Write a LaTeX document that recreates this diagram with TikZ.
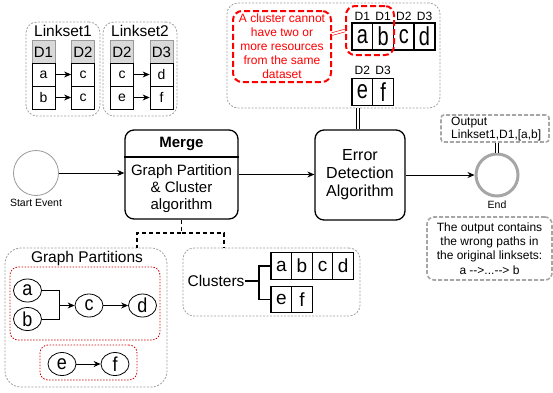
\documentclass[tikz,border=0pt]{standalone}
\usepackage{fontspec}
\usepackage{graphicx}
\setmainfont{Liberation Sans}
\usetikzlibrary{arrows.meta,calc,shapes.geometric}

\newcommand{\fs}[2]{\fontsize{#1}{#2}\selectfont}

\begin{document}
\begin{tikzpicture}[x=1pt,y=-1pt,
  groupbox/.style={draw=gray!75, dash pattern=on 2pt off 1.5pt, line width=0.8pt, rounded corners=11pt, inner sep=0pt},
  thickgroup/.style={draw=gray!70, dash pattern=on 4pt off 2pt, line width=1.6pt, rounded corners=7pt, inner sep=0pt},
  redgroup/.style={draw=red!80!black, dash pattern=on 1.5pt off 1.5pt, line width=0.8pt, rounded corners=8pt, inner sep=0pt},
  redbox/.style={draw=red, dash pattern=on 6pt off 3pt, line width=2pt, rounded corners=9pt, inner sep=0pt},
  hdrcell/.style={draw=gray!80, fill=gray!30, line width=0.8pt, minimum width=23pt, minimum height=23pt, inner sep=0pt, font=\fs{15}{17}},
  rowcell/.style={draw, line width=0.8pt, minimum width=23pt, minimum height=23pt, inner sep=0pt, font=\fs{14}{16}},
  bigcell/.style={draw, line width=1.4pt, minimum width=20.7pt, minimum height=27pt, inner sep=0pt, font=\fs{20}{22}},
  clcell/.style={draw, line width=1.2pt, minimum width=20.6pt, minimum height=26.5pt, inner sep=0pt, font=\fs{19}{21}},
  gnode/.style={draw, ellipse, line width=0.8pt, minimum width=28pt, minimum height=23pt, inner sep=0pt, font=\fs{18}{20}},
  procbox/.style={draw, line width=1.3pt, rounded corners=9pt, inner sep=0pt},
  arr/.style={-{Stealth[length=7pt,width=6pt]}, line width=0.8pt},
  dbl/.style={double=white, double distance=2pt, line width=0.6pt},
  lbl/.style={inner sep=0pt}
]
\useasboundingbox (0,0) rectangle (553,392);

% ---------- link sets ----------
\node[groupbox, minimum width=74pt, minimum height=94pt] (ls1) at (63,69) {};
\node[lbl, font=\fs{15.5}{17}] (ls1t) at (63,31) {Linkset1};
\node[hdrcell] (l1h1) at (43.5,52) {D1};
\node[rowcell] (l1a) at (43.5,74.5) {a};
\node[rowcell] (l1b) at (43.5,97.5) {b};
\node[hdrcell] (l1h2) at (83,52) {D2};
\node[rowcell] (l1c) at (83,74.5) {c};
\node[rowcell] (l1c2) at (83,97.5) {c};
\draw[arr] (l1a.east) -- (l1c.west);
\draw[arr] (l1b.east) -- (l1c2.west);

\node[groupbox, minimum width=74pt, minimum height=94pt] (ls2) at (140,69) {};
\node[lbl, font=\fs{15.5}{17}] (ls2t) at (140,31) {Linkset2};
\node[hdrcell] (l2h1) at (122,52) {D2};
\node[rowcell] (l2c) at (122,74.5) {c};
\node[rowcell] (l2e) at (122,97.5) {e};
\node[hdrcell] (l2h2) at (161.5,52) {D3};
\node[rowcell] (l2d) at (161.5,74.5) {d};
\node[rowcell] (l2f) at (161.5,97.5) {f};
\draw[arr] (l2c.east) -- (l2d.west);
\draw[arr] (l2e.east) -- (l2f.west);

% ---------- clusters under test ----------
\node[groupbox, minimum width=213pt, minimum height=105pt] (topgrp) at (333.5,55.5) {};
\node[redbox, minimum width=98pt, minimum height=71pt, align=center, text=red, font=\fs{12}{14}] (rule) at (282,46.5)
  {A cluster cannot\\have two or\\more resources\\from the same\\dataset};
\node[bigcell] (ta) at (362.4,36.5) {\scalebox{1}[1.3]{a}};
\node[bigcell] (tb) at (383.1,36.5) {\scalebox{1}[1.3]{b}};
\node[bigcell] (tc) at (403.8,36.5) {\scalebox{1}[1.3]{c}};
\node[bigcell] (td) at (424.5,36.5) {\scalebox{1}[1.3]{d}};
\node[lbl, font=\fs{12}{14}] (tla) at (362.4,16) {D1};
\node[lbl, font=\fs{12}{14}] (tlb) at (383.1,16) {D1};
\node[lbl, font=\fs{12}{14}] (tlc) at (403.8,16) {D2};
\node[lbl, font=\fs{12}{14}] (tld) at (424.5,16) {D3};
\node[bigcell] (te) at (362.4,92) {\scalebox{1}[1.3]{e}};
\node[bigcell] (tf) at (383.1,92) {\scalebox{1}[1.3]{f}};
\node[lbl, font=\fs{12}{14}] (tle) at (362.4,70) {D2};
\node[lbl, font=\fs{12}{14}] (tlf) at (383.1,70) {D3};
\node[redbox, minimum width=48pt, minimum height=49pt] (redab) at (370,30.5) {};
\draw[dbl, red] ($(rule.north east)!0.33!(rule.south east)$) -- (redab.west);

% ---------- process ----------
\node[draw=gray!80, circle, line width=0.8pt, minimum size=45pt, inner sep=0pt] (start) at (36,173) {};
\node[lbl, font=\fs{10.5}{12}] (startl) at (36,203) {Start Event};

\node[procbox, minimum width=113pt, minimum height=89pt] (merge) at (181.5,174.5) {};
\draw[line width=1.3pt] (merge.west |- 0,157) -- (merge.east |- 0,157);
\node[lbl, font=\bfseries\fs{15}{17}] (mergeh) at (181.5,144) {Merge};
\node[lbl, align=center, font=\fs{15}{17}] (mergeb) at (181.5,189) {Graph Partition\\\& Cluster\\algorithm};

\node[procbox, minimum width=90pt, minimum height=90pt, align=center, font=\fs{16}{18}] (err) at (360,175)
  {Error\\Detection\\Algorithm};

\node[draw=gray!70, circle, line width=3pt, minimum size=42pt, inner sep=0pt] (end) at (497,175) {};
\node[lbl, font=\fs{10.5}{12}] (endl) at (497,205) {End};

\draw[arr] (start.east) -- (start.east -| merge.west);
\draw[arr] (merge.east) -- (merge.east -| err.west);
\draw[arr] (err.east) -- (err.east -| end.west);

\coordinate (dx) at (358,0);
\draw[dbl] (dx |- topgrp.south) -- (dx |- err.north);

% ---------- output and note ----------
\node[thickgroup, minimum width=108pt, minimum height=27pt, rounded corners=3pt] (out) at (495,128.5) {};
\node[lbl, align=left, anchor=north west, font=\fs{12}{13}] (outt) at (451,117) {Output\\Linkset1,D1,[a,b]};
\draw[dbl] (out.south -| end.north) -- (end.north);

\node[thickgroup, minimum width=125pt, minimum height=63pt, align=center, font=\fs{12}{14.3}] (note) at (489.5,248.5)
  {The output contains\\the wrong paths in\\the original linksets:\\a -{}->...-{}-> b};

% ---------- graph partitions ----------
\node[groupbox, minimum width=162pt, minimum height=139pt, rounded corners=16pt] (gp) at (86,317.5) {};
\node[lbl, font=\fs{15.5}{17}] (gpt) at (87,258) {Graph Partitions};
\node[redgroup, minimum width=150pt, minimum height=73pt] (part1) at (85,303.5) {};
\node[redgroup, minimum width=97pt, minimum height=35pt] (part2) at (88.5,362.5) {};
\node[gnode] (ga) at (27.5,290.5) {\scalebox{1}[1.12]{a}};
\node[gnode] (gb) at (27.5,319) {\scalebox{1}[1.12]{b}};
\node[gnode] (gc) at (89,305.5) {\scalebox{1}[1.12]{c}};
\node[gnode] (gd) at (142.5,305.5) {\scalebox{1}[1.12]{d}};
\node[gnode] (ge) at (62,364) {\scalebox{1}[1.12]{e}};
\node[gnode] (gf) at (115,364) {\scalebox{1}[1.12]{f}};
\coordinate (gj) at (59.5,305.5);
\draw[line width=0.8pt] (ga) -| (gj);
\draw[line width=0.8pt] (gb) -| (gj);
\draw[arr] (gj) -- (gc);
\draw[arr] (gc) -- (gd);
\draw[arr] (ge) -- (gf);

% ---------- clusters ----------
\node[groupbox, minimum width=177pt, minimum height=68pt] (cl) at (271.5,282) {};
\node[lbl, font=\fs{15.5}{17}] (clt) at (216,281) {Clusters};
\node[clcell] (ca) at (281.3,266) {a};
\node[clcell] (cb) at (301.9,266) {b};
\node[clcell] (cc) at (322.5,266) {c};
\node[clcell] (cd) at (343.1,266) {d};
\node[clcell] (ce) at (281.3,299.5) {e};
\node[clcell] (cf) at (301.9,299.5) {f};
\coordinate (cj) at (259,281);
\draw[line width=1.2pt] (clt.east) -- (cj);
\draw[line width=1.2pt] (ca.west) -| (cj) |- (ce.west);

% ---------- merge outputs ----------
\coordinate (mj) at (181.5,233);
\draw[line width=1.3pt, dash pattern=on 4pt off 3pt] (merge.south) -- (mj) -| (gp.north -| 137,0);
\draw[line width=1.3pt, dash pattern=on 4pt off 3pt] (mj) -| (cl.north -| 224,0);
\end{tikzpicture}
\end{document}
